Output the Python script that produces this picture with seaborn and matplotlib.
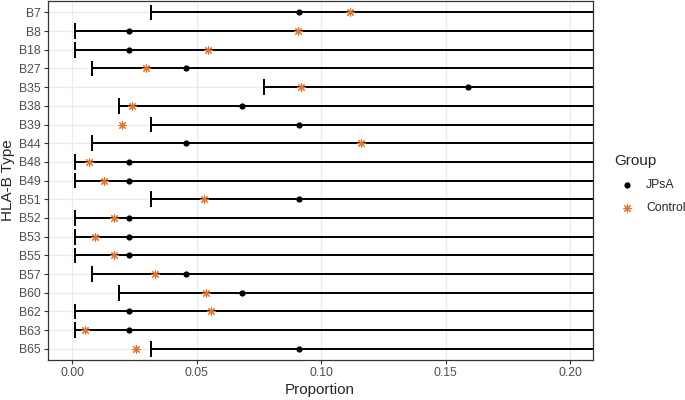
import numpy as np
import pandas as pd
import matplotlib
matplotlib.use('Agg')
import matplotlib.pyplot as plt
import seaborn as sns

hla_types = ['B7', 'B8', 'B18', 'B27', 'B35', 'B38', 'B39', 'B44', 'B48',
             'B49', 'B51', 'B52', 'B53', 'B55', 'B57', 'B60', 'B62', 'B63', 'B65']

# proportion in JPsA patients and lower bound of the interval
jpsa_prop = [0.0909, 0.0227, 0.0227, 0.0455, 0.1591, 0.0682, 0.0909, 0.0455, 0.0227,
             0.0227, 0.0909, 0.0227, 0.0227, 0.0227, 0.0455, 0.0682, 0.0227, 0.0227, 0.0909]
jpsa_lower = [0.0315, 0.0010, 0.0010, 0.0079, 0.0770, 0.0187, 0.0315, 0.0079, 0.0010,
              0.0010, 0.0315, 0.0010, 0.0010, 0.0010, 0.0079, 0.0187, 0.0010, 0.0010, 0.0315]
jpsa_upper = [0.26, 0.24, 0.24, 0.25, 0.30, 0.27, 0.26, 0.25, 0.24,
              0.24, 0.26, 0.24, 0.24, 0.24, 0.25, 0.27, 0.24, 0.24, 0.26]
control_prop = [0.1116, 0.0908, 0.0547, 0.0297, 0.0917, 0.0241, 0.0200, 0.1160, 0.0068,
                0.0126, 0.0527, 0.0167, 0.0092, 0.0166, 0.0332, 0.0539, 0.0556, 0.0049, 0.0255]

df = pd.DataFrame({'type': hla_types, 'JPsA': jpsa_prop, 'Control': control_prop,
                   'lower': jpsa_lower, 'upper': jpsa_upper})

sns.set_theme(style='white')
plt.rcParams['font.family'] = ['Liberation Sans', 'DejaVu Sans']

fig, ax = plt.subplots(figsize=(6.85, 4.0), dpi=100)
fig.subplots_adjust(left=0.07, right=0.865, top=0.997, bottom=0.1)

ax.grid(True, color='#ebebeb', linewidth=0.9)
ax.set_axisbelow(True)

pos = np.arange(len(hla_types))
ax.hlines(pos, df['lower'], df['upper'], color='black', linewidth=1.4, zorder=2)
ax.vlines(df['lower'], pos - 0.42, pos + 0.42, color='black', linewidth=1.4, zorder=2)

sns.scatterplot(x=df['JPsA'], y=pos, ax=ax, color='black', marker='o', s=20,
                edgecolor='black', linewidth=0, label='JPsA', zorder=3)
sns.scatterplot(x=df['Control'], y=pos, ax=ax, color='#E3742A', marker=(8, 2, 0), s=30,
                linewidth=0.8, label='Control', zorder=4)

ax.set_yticks(pos)
ax.set_yticklabels(hla_types)
ax.set_ylim(len(hla_types) - 0.4, -0.6)
ax.set_xlim(-0.0098, 0.209)
ax.set_xticks([0.0, 0.05, 0.10, 0.15, 0.20])
ax.set_xticklabels(['0.00', '0.05', '0.10', '0.15', '0.20'])
ax.tick_params(axis='both', labelsize=8.8, labelcolor='#4d4d4d', color='#333333',
               length=3, width=0.8, left=True, bottom=True, pad=2)
for sp in ax.spines.values():
    sp.set_color('#333333')
    sp.set_linewidth(0.9)

ax.set_xlabel('Proportion', fontsize=11, labelpad=3)
ax.set_ylabel('HLA-B Type', fontsize=11, labelpad=3)

leg = ax.legend(title='Group', loc='center left', bbox_to_anchor=(1.02, 0.49),
                frameon=False, fontsize=8.8, title_fontsize=11, handletextpad=0.6,
                labelspacing=0.9)
leg._legend_box.align = 'left'

fig.savefig('out.png', dpi=100)
